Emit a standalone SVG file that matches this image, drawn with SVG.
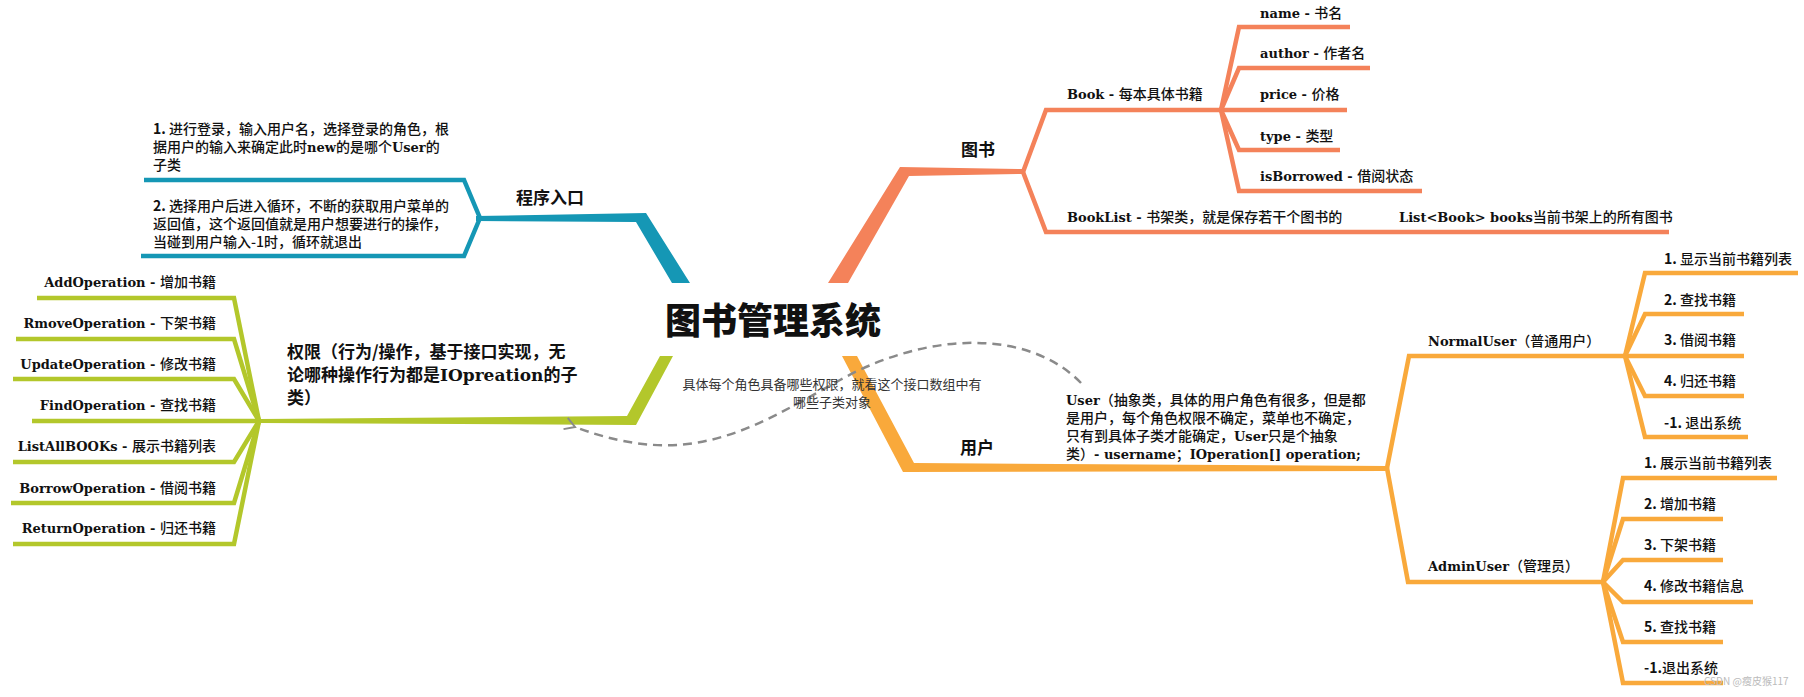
<svg xmlns="http://www.w3.org/2000/svg" width="1804" height="697" viewBox="0 0 1804 697">
<style>
.t{font-family:"Noto Sans CJK SC","Noto Sans",sans-serif;font-size:14px;font-weight:500;fill:#111}
.l{font-family:"DejaVu Serif","Noto Sans CJK SC",serif;font-weight:bold;font-size:13px}
.h{font-family:"Noto Sans CJK SC",sans-serif;font-size:17px;font-weight:bold;fill:#111}
.lab{font-family:"Noto Sans CJK SC",sans-serif;font-size:13px;fill:#333}
.b{fill:none;stroke-width:4.5;stroke-linejoin:miter}
.blue{stroke:#1597b5}.green{stroke:#b3c72b}.coral{stroke:#f4825a}.amber{stroke:#f9a93b}
</style>
<defs>
<marker id="arr" markerWidth="14" markerHeight="14" refX="2" refY="7" orient="auto" markerUnits="userSpaceOnUse">
<path d="M12,1 L2,7 L12,13" fill="none" stroke="#8a8a8a" stroke-width="2"/>
</marker>
</defs>
<rect width="1804" height="697" fill="#fff"/>
<g id="connectors">
<polygon fill="#1597b5" points="476,216 646,213 690,283 672,283 636,222 476,221"/>
<polygon fill="#b3c72b" points="660,356 673,356 636,425 259,423 259,419 627,416"/>
<polygon fill="#f4825a" points="828,283 848,283 909,176 1023,174 1023,169 900,167"/>
<polygon fill="#f9a93b" points="842,356 857,356 914,463 1387,466 1387,471 903,472"/>
<polyline class="b blue" points="480,218 464,180 144,180"/>
<polyline class="b blue" points="480,218 464,256 141,256"/>
<polyline class="b green" points="259,421 234,298 37,298"/>
<polyline class="b green" points="259,421 234,339 16,339"/>
<polyline class="b green" points="259,421 234,379 13,379"/>
<polyline class="b green" points="259,421 32,421"/>
<polyline class="b green" points="259,421 234,462 13,462"/>
<polyline class="b green" points="259,421 234,503 11,503"/>
<polyline class="b green" points="259,421 234,544 13,544"/>
<polyline class="b coral" points="1023,172 1046,110 1221,110"/>
<polyline class="b coral" points="1023,172 1046,232 1669,232"/>
<polyline class="b coral" points="1221,110 1239,27 1350,27"/>
<polyline class="b coral" points="1221,110 1239,68 1370,68"/>
<polyline class="b coral" points="1221,110 1347,110"/>
<polyline class="b coral" points="1221,110 1239,150 1340,150"/>
<polyline class="b coral" points="1221,110 1239,191 1422,191"/>
<polyline class="b amber" points="1387,468 1409,356 1625,356"/>
<polyline class="b amber" points="1387,468 1408,582 1603,582"/>
<polyline class="b amber" points="1625,356 1645,273 1798,273"/>
<polyline class="b amber" points="1625,356 1645,314 1744,314"/>
<polyline class="b amber" points="1625,356 1744,356"/>
<polyline class="b amber" points="1625,356 1645,396 1744,396"/>
<polyline class="b amber" points="1625,356 1645,437 1748,437"/>
<polyline class="b amber" points="1603,582 1623,478 1777,478"/>
<polyline class="b amber" points="1603,582 1623,519 1723,519"/>
<polyline class="b amber" points="1603,582 1623,560 1723,560"/>
<polyline class="b amber" points="1603,582 1623,602 1753,602"/>
<polyline class="b amber" points="1603,582 1623,642 1723,642"/>
<polyline class="b amber" points="1603,582 1623,683 1723,683"/>
<path d="M1081,383 C1030,330 930,330 840,380 S690,470 575,427" fill="none" stroke="#8a8a8a" stroke-width="2.5" stroke-dasharray="9,6" marker-end="url(#arr)"/>
</g>
<g id="root"><text x="773" y="334" text-anchor="middle" font-family="Noto Sans CJK SC,sans-serif" font-size="36" font-weight="900" fill="#111">图书管理系统</text></g>
<g id="entry"><text class="h" x="516" y="204">程序入口</text></g>
<g id="entry1"><text class="t" x="153" y="134"><tspan font-weight="bold">1.</tspan> 进行登录，输入用户名，选择登录的角色，根</text>
<text class="t" x="153" y="152">据用户的输入来确定此时<tspan class="l">new</tspan>的是哪个<tspan class="l">User</tspan>的</text>
<text class="t" x="153" y="170">子类</text></g>
<g id="entry2"><text class="t" x="153" y="211"><tspan font-weight="bold">2.</tspan> 选择用户后进入循环，不断的获取用户菜单的</text>
<text class="t" x="153" y="229">返回值，这个返回值就是用户想要进行的操作，</text>
<text class="t" x="153" y="247">当碰到用户输入-1时，循环就退出</text></g>
<g id="perm"><text class="h" x="287" y="358">权限（行为/操作，基于接口实现，无</text>
<text class="h" x="287" y="381">论哪种操作行为都是<tspan font-family="DejaVu Serif,serif">IOpreation</tspan>的子</text>
<text class="h" x="287" y="404">类）</text></g>
<g id="op1"><text class="t" x="216" y="287" text-anchor="end"><tspan class="l">AddOperation - </tspan>增加书籍</text></g>
<g id="op2"><text class="t" x="216" y="328" text-anchor="end"><tspan class="l">RmoveOperation - </tspan>下架书籍</text></g>
<g id="op3"><text class="t" x="216" y="369" text-anchor="end"><tspan class="l">UpdateOperation - </tspan>修改书籍</text></g>
<g id="op4"><text class="t" x="216" y="410" text-anchor="end"><tspan class="l">FindOperation - </tspan>查找书籍</text></g>
<g id="op5"><text class="t" x="216" y="451" text-anchor="end"><tspan class="l">ListAllBOOKs - </tspan>展示书籍列表</text></g>
<g id="op6"><text class="t" x="216" y="493" text-anchor="end"><tspan class="l">BorrowOperation - </tspan>借阅书籍</text></g>
<g id="op7"><text class="t" x="216" y="533" text-anchor="end"><tspan class="l">ReturnOperation - </tspan>归还书籍</text></g>
<g id="note"><text class="lab" x="832" y="389" text-anchor="middle">具体每个角色具备哪些权限，就看这个接口数组中有</text>
<text class="lab" x="832" y="407" text-anchor="middle">哪些子类对象</text></g>
<g id="books"><text class="h" x="961" y="156">图书</text></g>
<g id="book"><text class="t" x="1067" y="99"><tspan class="l">Book - </tspan>每本具体书籍</text></g>
<g id="booklist"><text class="t" x="1067" y="222"><tspan class="l">BookList - </tspan>书架类，就是保存若干个图书的</text></g>
<g id="booklist2"><text class="t" x="1399" y="222"><tspan class="l">List&lt;Book&gt; books</tspan>当前书架上的所有图书</text></g>
<g id="f1"><text class="t" x="1260" y="18"><tspan class="l">name - </tspan>书名</text></g>
<g id="f2"><text class="t" x="1260" y="58"><tspan class="l">author - </tspan>作者名</text></g>
<g id="f3"><text class="t" x="1260" y="99"><tspan class="l">price - </tspan>价格</text></g>
<g id="f4"><text class="t" x="1260" y="141"><tspan class="l">type - </tspan>类型</text></g>
<g id="f5"><text class="t" x="1260" y="181"><tspan class="l">isBorrowed - </tspan>借阅状态</text></g>
<g id="users"><text class="h" x="960" y="454">用户</text></g>
<g id="user"><text class="t" x="1066" y="405"><tspan class="l">User</tspan>（抽象类，具体的用户角色有很多，但是都</text>
<text class="t" x="1066" y="423">是用户，每个角色权限不确定，菜单也不确定，</text>
<text class="t" x="1066" y="441">只有到具体子类才能确定，<tspan class="l">User</tspan>只是个抽象</text>
<text class="t" x="1066" y="459">类）<tspan class="l">- username</tspan>；<tspan class="l">IOperation[] operation;</tspan></text></g>
<g id="normal"><text class="t" x="1428" y="346"><tspan class="l">NormalUser</tspan>（普通用户）</text></g>
<g id="n1"><text class="t" x="1664" y="264"><tspan font-weight="bold">1.</tspan> 显示当前书籍列表</text></g>
<g id="n2"><text class="t" x="1664" y="305"><tspan font-weight="bold">2.</tspan> 查找书籍</text></g>
<g id="n3"><text class="t" x="1664" y="345"><tspan font-weight="bold">3.</tspan> 借阅书籍</text></g>
<g id="n4"><text class="t" x="1664" y="386"><tspan font-weight="bold">4.</tspan> 归还书籍</text></g>
<g id="n5"><text class="t" x="1664" y="428"><tspan font-weight="bold">-1.</tspan> 退出系统</text></g>
<g id="admin"><text class="t" x="1428" y="571"><tspan class="l">AdminUser</tspan>（管理员）</text></g>
<g id="a1"><text class="t" x="1644" y="468"><tspan font-weight="bold">1.</tspan> 展示当前书籍列表</text></g>
<g id="a2"><text class="t" x="1644" y="509"><tspan font-weight="bold">2.</tspan> 增加书籍</text></g>
<g id="a3"><text class="t" x="1644" y="550"><tspan font-weight="bold">3.</tspan> 下架书籍</text></g>
<g id="a4"><text class="t" x="1644" y="591"><tspan font-weight="bold">4.</tspan> 修改书籍信息</text></g>
<g id="a5"><text class="t" x="1644" y="632"><tspan font-weight="bold">5.</tspan> 查找书籍</text></g>
<g id="a6"><text class="t" x="1644" y="673"><tspan font-weight="bold">-1.</tspan>退出系统</text></g>
<g id="wm"><text x="1704" y="685" font-family="Noto Sans CJK SC,sans-serif" font-size="10" fill="#bbb">CSDN @瘦皮猴117</text></g>
</svg>
